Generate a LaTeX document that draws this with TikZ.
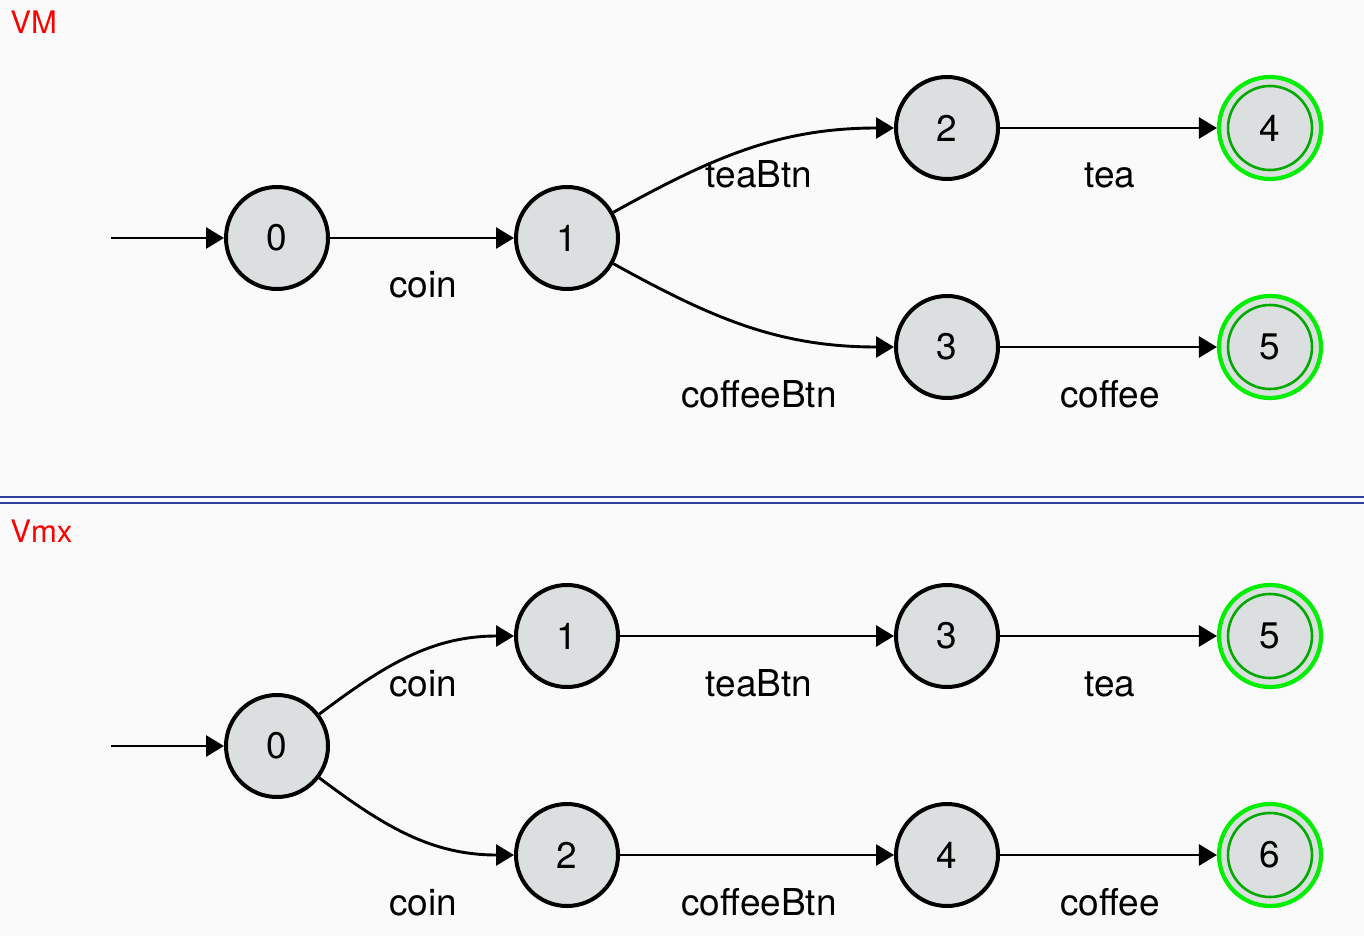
\documentclass[tikz,border=0pt]{standalone}
\usepackage{fontspec}
\setmainfont{TeX Gyre Heros}
\usetikzlibrary{arrows.meta}
\definecolor{bgc}{RGB}{250,250,250}
\definecolor{nodefill}{RGB}{220,223,224}
\definecolor{accout}{RGB}{0,238,0}
\definecolor{accin}{RGB}{0,170,0}
\definecolor{sepc}{RGB}{48,64,160}
\tikzset{
  state/.style={circle,draw=black,fill=nodefill,line width=2pt,minimum size=51pt,inner sep=0pt,font=\fontsize{18.5}{20}\selectfont},
  accepting/.style={state,draw=accout,line width=2.1pt},
  innerring/.style={draw=accin,line width=1.3pt},
  edge/.style={line width=1.45pt,-{Triangle[length=9pt,width=10.5pt]}},
  lbl/.style={anchor=base,inner sep=0pt,font=\fontsize{18.5}{20}\selectfont},
  title/.style={anchor=base west,inner sep=0pt,text=red,font=\fontsize{15.5}{17}\selectfont},
  sep/.style={draw=sepc,line width=0.75pt}
}
\begin{document}
\begin{tikzpicture}[x=0.5pt,y=-0.5pt]
\fill[bgc] (0,0) rectangle (1364,936);
\useasboundingbox (0,0) rectangle (1364,936);
% separator
\coordinate (sa1) at (0,497);
\coordinate (sb1) at (1364,497);
\coordinate (sa2) at (0,503);
\coordinate (sb2) at (1364,503);
\draw[sep] (sa1) -- (sb1);
\draw[sep] (sa2) -- (sb2);
% ---------- VM ----------
\node[title] (tVM) at (10,34) {VM};
\coordinate (startA) at (111,238);
\node[state] (a0) at (277,238) {0};
\node[state] (a1) at (567,238) {1};
\node[state] (a2) at (947,128) {2};
\node[state] (a3) at (947,347) {3};
\node[accepting] (a4) at (1270,128) {4};
\node[accepting] (a5) at (1270,347) {5};
\draw[innerring] (a4.center) circle (21pt);
\draw[innerring] (a5.center) circle (21pt);
\draw[edge] (startA) -- (a0);
\draw[edge] (a0) -- (a1);
\draw[edge] (a1) to[out=29,in=180] (a2);
\draw[edge] (a1) to[out=-29,in=180] (a3);
\draw[edge] (a2) -- (a4);
\draw[edge] (a3) -- (a5);
\node[lbl] (lA1) at (423,297) {coin};
\node[lbl] (lA2) at (759,188) {teaBtn};
\node[lbl] (lA3) at (1110,188) {tea};
\node[lbl] (lA4) at (759,407) {coffeeBtn};
\node[lbl] (lA5) at (1110,407) {coffee};
% ---------- Vmx ----------
\node[title] (tVmx) at (10,542) {Vmx};
\coordinate (startB) at (111,746);
\node[state] (b0) at (277,746) {0};
\node[state] (b1) at (567,636) {1};
\node[state] (b3) at (947,636) {3};
\node[accepting] (b5) at (1270,636) {5};
\node[state] (b2) at (567,855) {2};
\node[state] (b4) at (947,855) {4};
\node[accepting] (b6) at (1270,855) {6};
\draw[innerring] (b5.center) circle (21pt);
\draw[innerring] (b6.center) circle (21pt);
\draw[edge] (startB) -- (b0);
\draw[edge] (b0) to[out=37,in=180] (b1);
\draw[edge] (b0) to[out=-37,in=180] (b2);
\draw[edge] (b1) -- (b3);
\draw[edge] (b3) -- (b5);
\draw[edge] (b2) -- (b4);
\draw[edge] (b4) -- (b6);
\node[lbl] (lB1) at (423,696) {coin};
\node[lbl] (lB2) at (759,696) {teaBtn};
\node[lbl] (lB3) at (1110,696) {tea};
\node[lbl] (lB4) at (423,915) {coin};
\node[lbl] (lB5) at (759,915) {coffeeBtn};
\node[lbl] (lB6) at (1110,915) {coffee};
\end{tikzpicture}
\end{document}
